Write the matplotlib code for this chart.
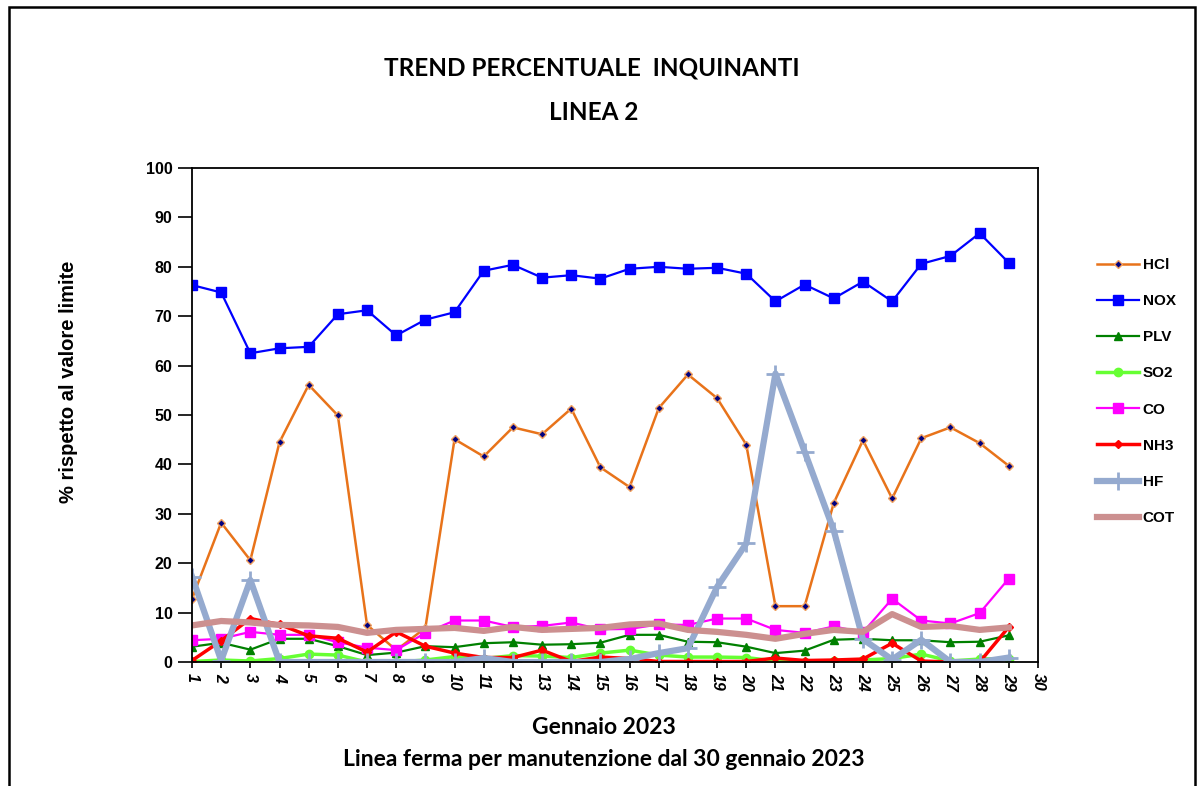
import matplotlib.pyplot as plt
from matplotlib.patches import Rectangle

days = list(range(1, 30))

hcl = [12.8, 28.2, 20.6, 44.5, 56.1, 49.9, 7.5, 2.4, 6.9, 45.1, 41.6, 47.5, 46.1, 51.3, 39.4,
       35.4, 51.4, 58.2, 53.4, 44.0, 11.3, 11.3, 32.2, 44.9, 33.1, 45.3, 47.5, 44.3, 39.7]
nox = [76.3, 74.8, 62.5, 63.5, 63.8, 70.4, 71.2, 66.1, 69.3, 70.8, 79.2, 80.4, 77.8, 78.3, 77.6,
       79.6, 80.0, 79.6, 79.8, 78.6, 73.0, 76.4, 73.6, 77.0, 73.0, 80.6, 82.2, 86.8, 80.8]
plv = [3.1, 3.9, 2.5, 4.7, 4.7, 3.2, 1.4, 1.9, 3.2, 3.0, 3.8, 4.0, 3.5, 3.6, 3.9,
       5.5, 5.5, 4.1, 4.0, 3.1, 1.8, 2.3, 4.5, 4.7, 4.4, 4.4, 4.0, 4.1, 5.4]
so2 = [0.1, 0.4, 0.2, 0.7, 1.6, 1.4, 0.0, 0.0, 0.4, 1.1, 0.7, 1.3, 1.2, 0.9, 1.8,
       2.4, 1.4, 1.0, 1.0, 0.9, 0.2, 0.1, 0.2, 0.4, 0.7, 1.6, 0.2, 0.6, 0.7]
co = [4.4, 4.7, 6.1, 5.5, 5.5, 4.0, 2.9, 2.4, 5.9, 8.4, 8.4, 7.1, 7.3, 8.0, 6.6,
      6.7, 7.6, 7.5, 8.8, 8.8, 6.5, 5.9, 7.2, 6.0, 12.8, 8.4, 7.8, 9.9, 16.9]
nh3 = [0.3, 4.3, 8.8, 7.6, 5.3, 4.8, 2.0, 6.1, 3.2, 1.8, 0.9, 0.9, 2.4, 0.1, 1.0,
       0.7, 0.1, 0.1, 0.1, 0.1, 0.8, 0.3, 0.4, 0.6, 3.8, 0.2, 0.0, 0.0, 7.1]
hf = [17.3, 0.3, 16.6, 0.0, 0.0, 0.0, 0.0, 0.0, 0.0, 0.0, 0.8, 0.0, 0.0, 0.0, 0.0,
      0.6, 1.8, 2.8, 15.2, 24.0, 58.4, 42.6, 26.6, 4.6, 0.5, 4.5, 0.0, 0.0, 0.9]
cot = [7.4, 8.3, 8.0, 7.5, 7.4, 7.1, 5.9, 6.5, 6.7, 6.9, 6.3, 7.1, 6.5, 6.7, 6.9,
       7.6, 7.8, 6.5, 6.1, 5.5, 4.7, 5.7, 6.5, 6.1, 9.7, 7.1, 7.3, 6.5, 7.0]

x_ticks = list(range(1, 31))
y_ticks = list(range(0, 101, 10))

fig = plt.figure(figsize=(12.01, 7.86), dpi=100)
ax = fig.add_axes([192 / 1201, 1 - 662 / 786, (1038 - 192) / 1201, (662 - 168) / 786])

ax.plot(days, hcl, color='#E8731A', lw=1.8, marker='D', ms=4, mfc='#000080', mec='#F0A060',
        mew=1, label='HCl')
ax.plot(days, nox, color='#0000FF', lw=1.6, marker='s', ms=6.5, label='NOX')
ax.plot(days, plv, color='#008000', lw=1.6, marker='^', ms=6, label='PLV')
ax.plot(days, so2, color='#66FF33', lw=2.5, marker='o', ms=6, label='SO2')
ax.plot(days, co, color='#FF00FF', lw=1.6, marker='s', ms=6.5, label='CO')
ax.plot(days, nh3, color='#FF0000', lw=2.5, marker='D', ms=4.5, label='NH3')
ax.plot(days, hf, color='#95AACF', lw=4.5, marker='+', ms=13, mew=2, label='HF')
ax.plot(days, cot, color='#CC9090', lw=4.5, label='COT')

ax.set_xlim(1, 30)
ax.set_ylim(0, 100)
ax.set_xticks(x_ticks)
ax.set_yticks(y_ticks)
ax.set_xticklabels([str(d) for d in x_ticks], rotation=-90, fontsize=11.5,
                   fontweight='bold', fontstyle='italic', family='Liberation Sans')
ax.set_yticklabels([str(v) for v in y_ticks], fontsize=11.5, fontweight='bold',
                   family='Liberation Sans')
ax.tick_params(axis='y', direction='out', length=10, width=1.2, pad=4)
ax.tick_params(axis='x', direction='out', length=4, width=1.2, pad=4)
for s in ax.spines.values():
    s.set_linewidth(1.3)

ax.set_ylabel('% rispetto al valore limite', fontsize=14.5, fontweight='bold',
              family='Liberation Sans')
ax.yaxis.set_label_coords((78 - 192) / 846, (662 - 382) / 494)

ax.legend(loc='upper left', bbox_to_anchor=(1097 / 1201, 1 - 258 / 786),
          bbox_transform=fig.transFigure, frameon=False,
          prop={'family': 'Liberation Sans', 'weight': 'bold', 'size': 11},
          handlelength=2.75, handletextpad=0.25, labelspacing=1.45, borderpad=0,
          borderaxespad=0)

fig.text(592 / 1201, 1 - 68 / 786, 'TREND PERCENTUALE  INQUINANTI', ha='center', va='center',
         fontsize=17.5, fontweight='bold', family='Lato')
fig.text(594 / 1201, 1 - 113 / 786, 'LINEA 2', ha='center', va='center',
         fontsize=17.5, fontweight='bold', family='Lato')
fig.text(604 / 1201, 1 - 728 / 786, 'Gennaio 2023', ha='center', va='center',
         fontsize=16.5, fontweight='bold', family='Lato')
fig.text(604 / 1201, 1 - 760 / 786, 'Linea ferma per manutenzione dal 30 gennaio 2023',
         ha='center', va='center', fontsize=16.5, fontweight='bold', family='Lato')

# outer chart frame
fig.add_artist(Rectangle((9 / 1201, -0.05), (1195 - 9) / 1201, 1.05 - 7 / 786,
                         transform=fig.transFigure, fill=False, ec='black', lw=1.8))

fig.savefig('out.png', dpi=100)
